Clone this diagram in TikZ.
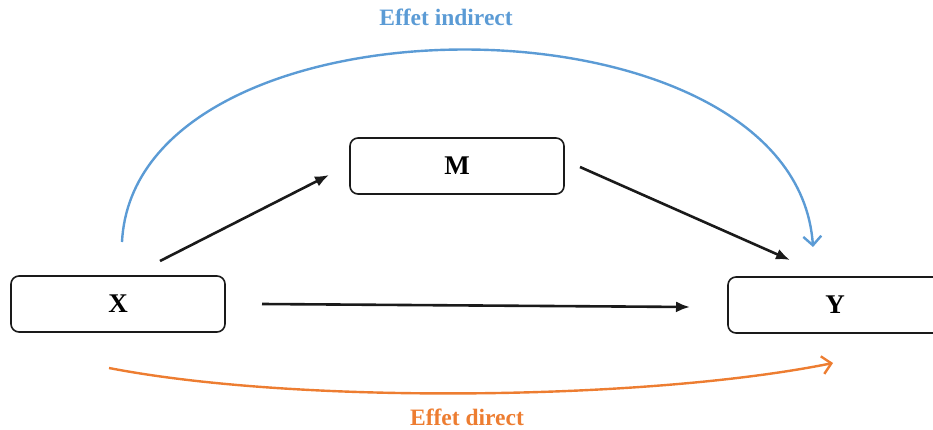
\documentclass[tikz,border=0pt]{standalone}
\usepackage{fontspec}
\setmainfont{Liberation Serif}
\usetikzlibrary{arrows.meta}
\definecolor{blueI}{HTML}{5B9BD5}
\definecolor{orangeD}{HTML}{ED7D31}
\definecolor{ink}{HTML}{1A1A1A}
\tikzset{
  varbox/.style={draw=ink, line width=1.6pt, rounded corners=8pt, minimum width=214pt, minimum height=56pt, inner sep=0pt, font=\fontsize{27}{29}\selectfont\bfseries},
  pathar/.style={draw=ink, line width=2.6pt, -{Latex[length=14pt,width=11pt]}},
  effar/.style={line width=2.4pt, -{Straight Barb[length=9pt,width=18pt,line width=2.4pt]}},
  efflab/.style={font=\fontsize{23.5}{25}\selectfont\bfseries}
}
\begin{document}
\begin{tikzpicture}[x=1pt,y=-1pt]
\useasboundingbox (0,0) rectangle (933,430);
\node[varbox] (X) at (118,304) {X};
\node[varbox] (M) at (457,166) {M};
\node[varbox] (Y) at (835,305) {Y};
\coordinate (xm1) at (160,261);
\coordinate (xm2) at (329,175);
\coordinate (my1) at (580,167);
\coordinate (my2) at (790,260);
\coordinate (xy1) at (262,304);
\coordinate (xy2) at (690,307);
\coordinate (b1) at (122,242);
\coordinate (b2) at (813,247);
\coordinate (o1) at (109,368);
\coordinate (o2) at (833,363);
\draw[pathar] (xm1) -- (xm2);
\draw[pathar] (my1) -- (my2);
\draw[pathar] (xy1) -- (xy2);
\draw[effar, blueI] (b1) .. controls (135,-15) and (795,-15) .. (b2);
\draw[effar, orangeD] (o1) .. controls (300,405) and (650,400) .. (o2);
\node[efflab, text=blueI] (li) at (446,17) {Effet indirect};
\node[efflab, text=orangeD] (ld) at (467,417) {Effet direct};
\end{tikzpicture}
\end{document}
